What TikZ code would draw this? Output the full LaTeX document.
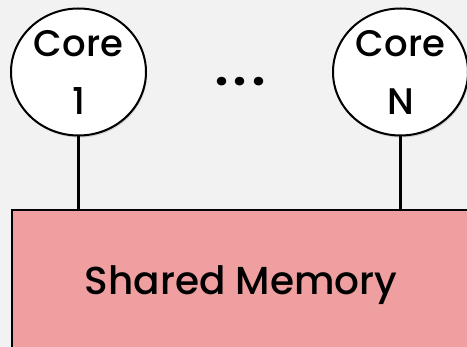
\documentclass[tikz,border=0pt]{standalone}
\usepackage{fontspec}
\setmainfont{Poppins Medium}
\newfontfamily\dotsfont[LetterSpace=12]{Poppins Bold}
\usetikzlibrary{shapes.geometric,shadows}

\definecolor{bgGray}{HTML}{F2F2F2}
\definecolor{memPink}{HTML}{F09FA0}

\begin{document}
\begin{tikzpicture}[x=1pt,y=-1pt]

% Core
\tikzstyle{core}=[ellipse,draw,line width=2pt,fill=white,minimum width=135pt,minimum height=127pt,inner sep=0pt,align=center,font=\fontsize{37}{58}\selectfont,drop shadow={shadow xshift=1pt,shadow yshift=-2pt,opacity=0.3}]

% Bus
\tikzstyle{bus}=[line width=3.5pt]

% Memory
\tikzstyle{memory}=[draw,line width=2pt,fill=memPink,minimum width=458pt,minimum height=150pt,inner sep=0pt,anchor=north west,font=\fontsize{39}{50}\selectfont]

\fill[bgGray] (0,0) rectangle (467,347);
\useasboundingbox (0,0) rectangle (467,347);
\clip (0,0) rectangle (467,347);

%%%%%%%%%%%%%%%%%%%%%%%%%%%%%%%%%%%%%%%%%%%%%%%%%%
%
%       Cores
%
\node (core1) [core] at (78.5,72)  {Core\\1};
\node (coreN) [core] at (400.5,72) {Core\\N};
\node (dots) at (240,82) {\dotsfont\fontsize{46}{46}\selectfont ...};

%%%%%%%%%%%%%%%%%%%%%%%%%%%%%%%%%%%%%%%%%%%%%%%%%%
%
%       Shared Memory
%
\node (mem) [memory] at (11,209) {Shared Memory};

\draw[bus] (core1.south) -- (core1.south |- mem.north);
\draw[bus] (coreN.south) -- (coreN.south |- mem.north);

\end{tikzpicture}
\end{document}
